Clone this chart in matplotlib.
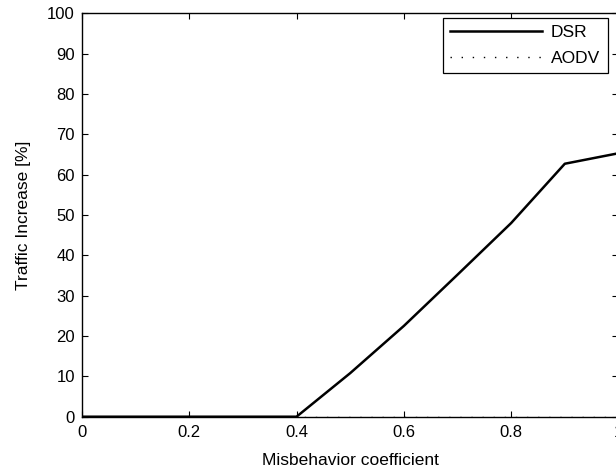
import numpy as np
import matplotlib
matplotlib.use("Agg")
import matplotlib.pyplot as plt

# ----------------------------------------------------
# data
# ----------------------------------------------------
misbehavior = [0.0, 0.1, 0.2, 0.3, 0.4, 0.5, 0.6, 0.7, 0.8, 0.9, 1.0]
dsr = [0, 0, 0, 0, 0, 10.8, 22.5, 35.2, 48.0, 62.7, 65.3]
aodv = [0, 0, 0, 0, 0, 0, 0, 0, 0, 0, 0]

x_ticks = [0, 0.2, 0.4, 0.6, 0.8, 1.0]
x_ticklabels = ["0", "0.2", "0.4", "0.6", "0.8", "1"]
y_ticks = list(range(0, 101, 10))

plt.rcParams['font.family'] = ['Liberation Sans', 'DejaVu Sans']

fig = plt.figure(figsize=(6.16, 4.73), dpi=100)
# MATLAB style axes, right edge cropped slightly off the image
ax = fig.add_axes([0.133, 0.119, 0.871, 0.853])

ax.plot(misbehavior, aodv, color='k', linestyle=(0, (1, 7)), linewidth=1.0, label='AODV')
ax.plot(misbehavior, dsr, color='k', linestyle='-', linewidth=1.8, label='DSR')

ax.set_xlim(0, 1)
ax.set_ylim(0, 100)
ax.set_xticks(x_ticks)
ax.set_xticklabels(x_ticklabels)
ax.set_yticks(y_ticks)
ax.tick_params(direction='in', top=True, right=True, length=4, width=0.8, labelsize=12)
ax.tick_params(axis='x', pad=6)
ax.tick_params(axis='y', pad=5)
for s in ax.spines.values():
    s.set_linewidth(1.0)

ax.set_xlabel('Misbehavior coefficient', fontsize=12.5, labelpad=9)
ax.set_ylabel('Traffic Increase [%]', fontsize=12.5, labelpad=12)

# legend order: DSR first
h, l = ax.get_legend_handles_labels()
leg = ax.legend(h[::-1], l[::-1], loc='upper right', bbox_to_anchor=(607.5 / 616, 1 - 18 / 473),
                bbox_transform=fig.transFigure, fancybox=False, edgecolor='k', framealpha=1,
                handlelength=5.3, handletextpad=0.5, borderpad=0.42, labelspacing=0.6,
                fontsize=12.5, borderaxespad=0)
leg.get_frame().set_linewidth(0.9)

fig.savefig("out.png", dpi=100)
